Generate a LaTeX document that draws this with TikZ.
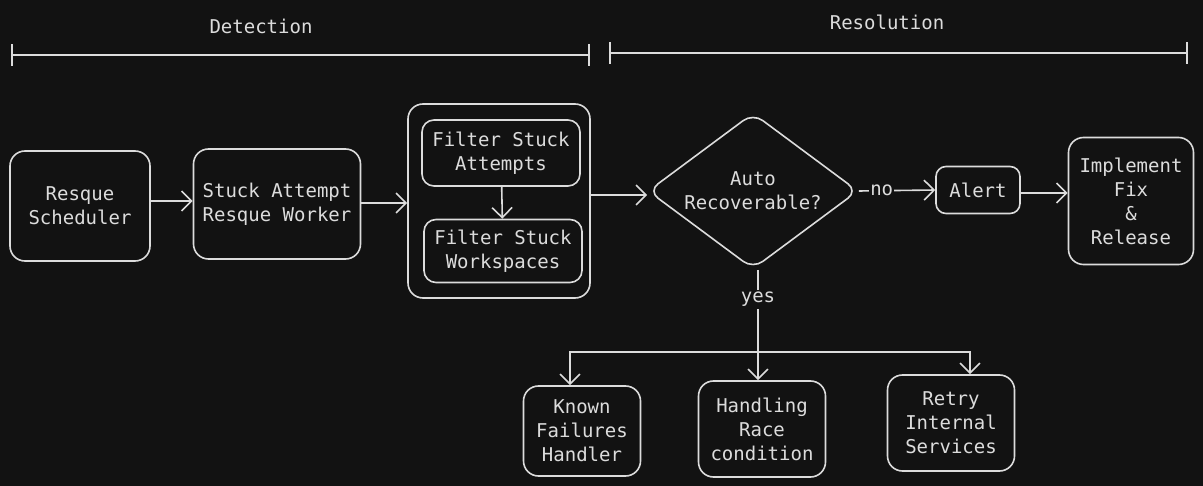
\documentclass[tikz,border=0pt]{standalone}
\usepackage{fontspec}
\setmainfont{DejaVu Sans Mono}
\usetikzlibrary{arrows.meta,shapes.geometric}

\definecolor{bgcol}{HTML}{121212}
\definecolor{inkcol}{HTML}{DCDCDC}

\tikzset{
  box/.style={draw=inkcol, text=inkcol, line width=1.6pt, rounded corners=15pt,
    align=center, inner sep=0pt},
  flow/.style={draw=inkcol, line width=1.6pt, -{Straight Barb[length=10pt,width=20pt,line width=1.6pt]}},
  span/.style={draw=inkcol, line width=2pt, {Bar[width=22pt,line width=1.6pt]}-{Bar[width=22pt,line width=1.6pt]}},
  lbl/.style={text=inkcol, fill=bgcol, inner sep=2pt}
}

\begin{document}
\begin{tikzpicture}[x=1pt,y=-1pt,font=\fontsize{19}{24}\selectfont]
      \fill[bgcol] (0,0) rectangle (1203,486);
      \useasboundingbox (0,0) rectangle (1203,486);
      % phases
      \node[lbl] (detlbl) at (261,26) {Detection};
      \coordinate (det1) at (11,55);
      \coordinate (det2) at (590,55);
      \draw[span] (det1) -- (det2);
      \node[lbl] (reslbl) at (887,22) {Resolution};
      \coordinate (res1) at (609,53);
      \coordinate (res2) at (1188,53);
      \draw[span] (res1) -- (res2);
      % detection
      \node[box, minimum width=140pt, minimum height=110pt] (sched) at (80,206) {Resque\\Scheduler};
      \node[box, minimum width=167pt, minimum height=110pt] (worker) at (277,204) {Stuck Attempt\\Resque Worker};
      \node[box, minimum width=182pt, minimum height=194pt] (group) at (499,201) {};
      \node[box, rounded corners=12pt, minimum width=158pt, minimum height=66pt] (att) at (501,153) {Filter Stuck\\Attempts};
      \node[box, rounded corners=12pt, minimum width=158pt, minimum height=63pt] (ws) at (503,251) {Filter Stuck\\Workspaces};
      % resolution
      \node[box, diamond, aspect=1.35, rounded corners=12pt, minimum width=210pt, minimum height=156pt] (auto) at (753,191) {Auto\\Recoverable?};
      \node[box, rounded corners=10pt, minimum width=84pt, minimum height=47pt] (alert) at (978,190) {Alert};
      \node[box, minimum width=125pt, minimum height=127pt] (impl) at (1131,201) {Implement\\Fix\\\&\\Release};
      \node[box, minimum width=117pt, minimum height=90pt] (known) at (582,431) {Known\\Failures\\Handler};
      \node[box, minimum width=127pt, minimum height=96pt] (race) at (762,429) {Handling\\Race\\condition};
      \node[box, minimum width=127pt, minimum height=96pt] (retry) at (951,423) {Retry\\Internal\\Services};
      \coordinate (split) at (758,352);
      % connectors
      \draw[flow] (sched.east |- 0,201) -- (worker.west |- 0,201);
      \draw[flow] (worker.east |- 0,203) -- (group.west |- 0,203);
      \draw[flow] (att) -- (ws);
      \draw[flow] (group.east |- 0,195) -- (auto.west |- 0,195);
      \draw[flow] (auto.east) -- node[lbl, inner sep=1pt, pos=0.3] {no} (alert.west);
      \draw[flow] (alert.east |- 0,193) -- (impl.west |- 0,193);
      \draw[flow] (auto.south -| split) -- node[lbl, pos=0.27] {yes} (race.north -| split);
      \draw[flow] (split) -| ([xshift=-12pt]known.north);
      \draw[flow] (split) -| ([xshift=19pt]retry.north);
    \end{tikzpicture}
\end{document}
